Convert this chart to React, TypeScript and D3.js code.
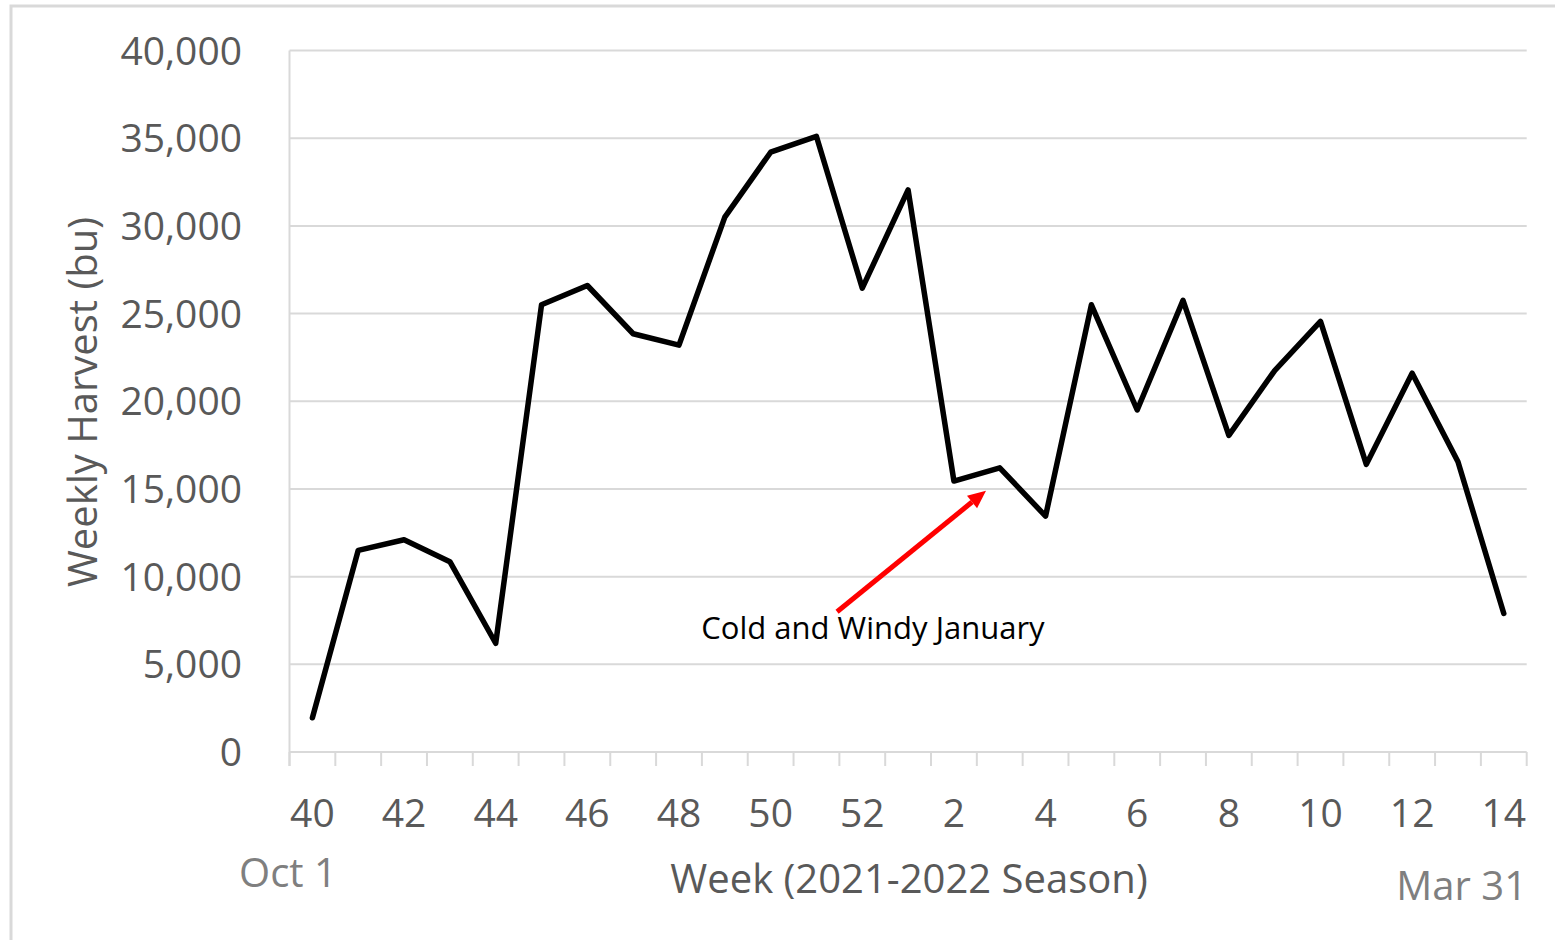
import React from "react";
import * as d3 from "d3";

const weeks: string[] = [
  "40", "41", "42", "43", "44", "45", "46", "47", "48", "49", "50", "51", "52",
  "1", "2", "3", "4", "5", "6", "7", "8", "9", "10", "11", "12", "13", "14",
];
const harvest: number[] = [
  1950, 11500, 12100, 10850, 6200, 25500, 26600, 23850, 23200, 30500, 34200, 35100, 26450,
  32050, 15450, 16200, 13450, 25500, 19500, 25750, 18050, 21750, 24550, 16400, 21600, 16550, 7900,
];
const yTicks: number[] = [0, 5000, 10000, 15000, 20000, 25000, 30000, 35000, 40000];
const yTitle = "Weekly Harvest (bu)";
const xTitle = "Week (2021-2022 Season)";
const startLabel = "Oct 1";
const endLabel = "Mar 31";
const annotationText = "Cold and Windy January";
// annotation arrow: from (week index, value) to (week index, value)
const arrowFrom = { idx: 11.45, value: 8000 };
const arrowTo = { idx: 14.7, value: 14900 };

const W = 1555;
const H = 940;
const left = 289.5;
const right = 1526.7;
const top = 50.5;
const bottom = 752;

export default function App() {
  const x = d3.scaleBand<string>().domain(weeks).range([left, right]).padding(0);
  const y = d3.scaleLinear().domain([0, 40000]).range([bottom, top]);
  const bw = x.bandwidth();
  const cx = (i: number) => left + (i + 0.5) * bw;

  const line = d3
    .line<number>()
    .x((_, i) => (x(weeks[i]) as number) + bw / 2)
    .y((d) => y(d));

  const fmt = d3.format(",");
  const tickFont = "'Open Sans', 'Noto Sans', sans-serif";

  const ax1 = cx(arrowFrom.idx);
  const ay1 = y(arrowFrom.value);
  const ax2 = cx(arrowTo.idx);
  const ay2 = y(arrowTo.value);
  const ang = Math.atan2(ay2 - ay1, ax2 - ax1);
  const headLen = 18;
  const headW = 8;
  const bx = ax2 - headLen * Math.cos(ang);
  const by = ay2 - headLen * Math.sin(ang);
  const px = -Math.sin(ang);
  const py = Math.cos(ang);

  const boundaries = d3.range(weeks.length + 1).map((i) => left + i * bw);

  return (
    <svg
      width={W}
      height={H}
      style={{ position: "absolute", left: 0, top: 0, background: "#fff" }}
    >
      <rect x={0} y={0} width={W} height={H} fill="#ffffff" />
      <rect x={11} y={6} width={W + 20} height={H + 20} fill="none" stroke="#d9d9d9" strokeWidth={3} />

      {/* gridlines */}
      {yTicks.map((t) => (
        <line key={"g" + t} x1={left} x2={right} y1={y(t)} y2={y(t)} stroke="#d9d9d9" strokeWidth={2} />
      ))}
      {/* left axis line */}
      <line x1={left} x2={left} y1={top} y2={bottom + 14} stroke="#d9d9d9" strokeWidth={2} />
      {/* tick marks */}
      {boundaries.map((bx0, i) => (
        <line key={"t" + i} x1={bx0} x2={bx0} y1={bottom} y2={bottom + 14} stroke="#d9d9d9" strokeWidth={2} />
      ))}

      {/* y tick labels */}
      {yTicks.map((t) => (
        <text
          key={"yl" + t}
          x={242}
          y={y(t)}
          dy="0.36em"
          textAnchor="end"
          fontFamily={tickFont}
          fontSize={39}
          fill="#595959"
        >
          {fmt(t)}
        </text>
      ))}

      {/* x tick labels */}
      {weeks.map((w, i) =>
        i % 2 === 0 ? (
          <text
            key={"xl" + w}
            x={(x(w) as number) + bw / 2}
            y={827}
            textAnchor="middle"
            fontFamily={tickFont}
            fontSize={39}
            fill="#595959"
          >
            {w}
          </text>
        ) : null
      )}

      <text x={288} y={887} textAnchor="middle" fontFamily={tickFont} fontSize={40} fill="#7f7f7f">
        {startLabel}
      </text>
      <text x={1527} y={900} textAnchor="end" fontFamily={tickFont} fontSize={40} fill="#7f7f7f">
        {endLabel}
      </text>
      <text x={909} y={893} textAnchor="middle" fontFamily={tickFont} fontSize={40} fill="#595959">
        {xTitle}
      </text>
      <text
        transform={`translate(97, 402) rotate(-90)`}
        textAnchor="middle"
        fontFamily={tickFont}
        fontSize={40}
        fill="#595959"
      >
        {yTitle}
      </text>

      {/* data line */}
      <path
        d={line(harvest) || ""}
        fill="none"
        stroke="#000"
        strokeWidth={5.5}
        strokeLinejoin="round"
        strokeLinecap="round"
      />

      {/* annotation */}
      <line x1={ax1} y1={ay1} x2={bx} y2={by} stroke="#ff0000" strokeWidth={5} />
      <path
        d={`M${ax2},${ay2} L${bx + px * headW},${by + py * headW} L${bx - px * headW},${by - py * headW} Z`}
        fill="#ff0000"
      />
      <text x={873} y={639} textAnchor="middle" fontFamily={tickFont} fontSize={31} fill="#000">
        {annotationText}
      </text>
    </svg>
  );
}
